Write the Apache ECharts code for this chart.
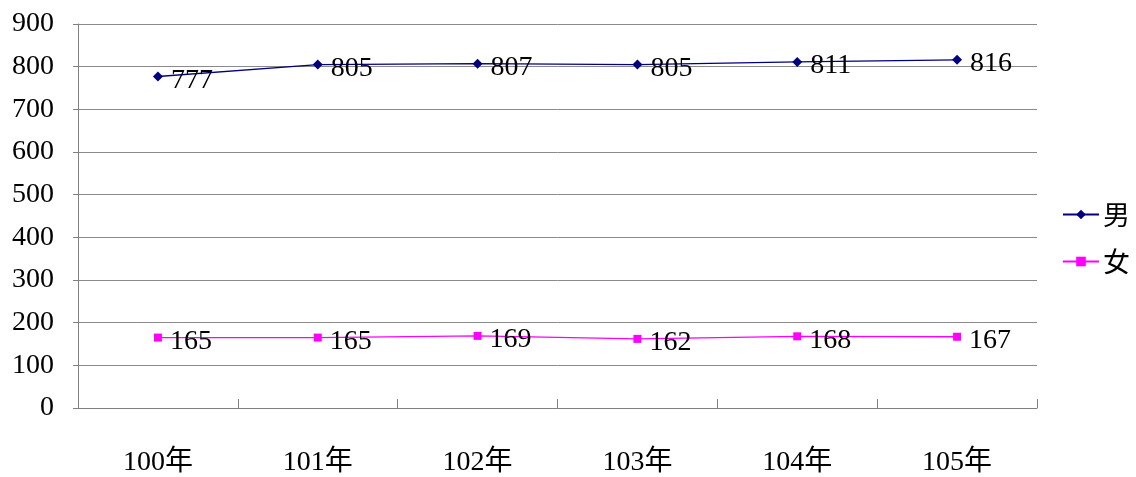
<!DOCTYPE html>
<html><head><meta charset="utf-8">
<script src="https://cdn.jsdelivr.net/npm/echarts@6/dist/echarts.min.js"></script>
<style>html,body{margin:0;padding:0;background:#fff}#c{width:1136px;height:477px}</style>
</head><body><div id="c"></div>
<script>
const categories = ['100年','101年','102年','103年','104年','105年'];
const male = [777, 805, 807, 805, 811, 816];
const female = [165, 165, 169, 162, 168, 167];
const yTicks = [0,100,200,300,400,500,600,700,800,900];

const FONT = '"Liberation Serif", "Noto Sans CJK TC", serif';
const chart = echarts.init(document.getElementById('c'), null, {renderer:'canvas'});
const lbl = {show:true, position:'right', offset:[0,4], fontSize:28, color:'#000', fontFamily:FONT, distance:8};
chart.setOption({
  animation:false,
  grid:{left:78, right:99, top:24, bottom:68, containLabel:false},
  legend:{
    orient:'vertical', left:1057, top:196, itemWidth:36, itemHeight:12, itemGap:20,
    textStyle:{fontSize:27, color:'#000', fontFamily:'"Noto Sans CJK TC", serif', padding:[0,0,0,-1]},
    data:['男','女']
  },
  xAxis:{
    type:'category', data:categories, boundaryGap:true,
    axisLine:{show:true, lineStyle:{color:'#808080', width:1}},
    axisTick:{show:true, inside:true, length:9, interval:0, lineStyle:{color:'#808080', width:1}},
    axisLabel:{fontSize:28, color:'#000', fontFamily:FONT, margin:41},
    splitLine:{show:false}
  },
  yAxis:{
    type:'value', min:yTicks[0], max:yTicks[yTicks.length-1], interval:100,
    axisLine:{show:true, lineStyle:{color:'#808080'}},
    axisTick:{show:true, length:5, lineStyle:{color:'#808080'}},
    axisLabel:{fontSize:28, color:'#000', fontFamily:FONT, margin:24},
    splitLine:{lineStyle:{color:'#8a8a8a', width:1}}
  },
  series:[
    {name:'男', type:'line', data:male, symbol:'diamond', symbolSize:10,
     itemStyle:{color:'#000080'}, lineStyle:{color:'#000080', width:1.3}, label:lbl},
    {name:'女', type:'line', data:female, symbol:'rect', symbolSize:8,
     itemStyle:{color:'#FF00FF'}, lineStyle:{color:'#FF00FF', width:1.3}, label:lbl}
  ]
});
</script></body></html>
